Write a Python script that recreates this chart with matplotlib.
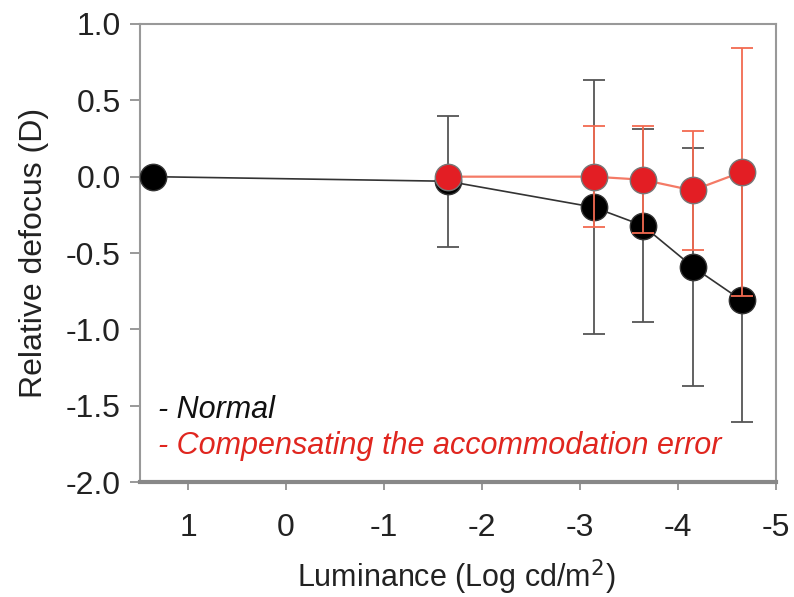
import matplotlib
matplotlib.use("Agg")
import matplotlib.pyplot as plt

plt.rcParams['font.family'] = ['Liberation Sans', 'DejaVu Sans']

# Data
normal_x = [1.36, -1.65, -3.14, -3.64, -4.15, -4.65]
normal_y = [0.0, -0.03, -0.20, -0.32, -0.59, -0.81]
normal_err = [0.0, 0.43, 0.83, 0.63, 0.78, 0.80]

comp_x = [-1.65, -3.14, -3.64, -4.15, -4.65]
comp_y = [0.0, 0.0, -0.02, -0.09, 0.03]
comp_err = [0.0, 0.33, 0.35, 0.39, 0.81]

xticks = [1, 0, -1, -2, -3, -4, -5]
yticks = [1.0, 0.5, 0.0, -0.5, -1.0, -1.5, -2.0]

fig = plt.figure(figsize=(7.94, 5.97), dpi=100)
ax = fig.add_axes([0.1763, 0.1926, 0.801, 0.7672])

ax.errorbar(normal_x, normal_y, yerr=normal_err, fmt='none', ecolor='#555555',
            elinewidth=1.3, capsize=8, capthick=1.3, zorder=2)
ax.plot(normal_x, normal_y, '-', color='#333333', lw=1.2, zorder=3)
ax.plot(normal_x, normal_y, 'o', ms=19, mfc='#000000', mec='#333333', mew=1.0,
        zorder=4, clip_on=False)

ax.errorbar(comp_x, comp_y, yerr=comp_err, fmt='none', ecolor='#f26a50',
            elinewidth=1.3, capsize=8, capthick=1.3, zorder=5)
ax.plot(comp_x, comp_y, '-', color='#f47a66', lw=1.6, zorder=6)
ax.plot(comp_x, comp_y, 'o', ms=19, mfc='#e31e24', mec='#777777', mew=1.0,
        zorder=7, clip_on=False)

ax.set_xlim(1.49, -5.0)
ax.set_ylim(-2.0, 1.0)
ax.set_xticks(xticks)
ax.set_xticklabels([str(t) for t in xticks])
ax.set_yticks(yticks)
ax.set_yticklabels([f"{t:.1f}" for t in yticks])

for s in ['left', 'top', 'right']:
    ax.spines[s].set_color('#999999')
    ax.spines[s].set_linewidth(1.5)
ax.spines['bottom'].set_color('#888888')
ax.spines['bottom'].set_linewidth(3)

ax.tick_params(axis='y', direction='out', length=7, width=1.2, color='#888888',
               labelsize=23, pad=7, labelcolor='#222222')
ax.tick_params(axis='x', direction='out', length=6, width=1.2, color='#888888',
               labelsize=23, pad=16, labelcolor='#222222')

ax.set_xlabel('Luminance (Log cd/m$^2$)', fontsize=22, color='#222222')
ax.xaxis.set_label_coords(0.497, -0.164)
ax.set_ylabel('Relative defocus (D)', fontsize=23, labelpad=12, color='#222222')

ax.text(0.028, 0.157, '- Normal', transform=ax.transAxes, fontsize=22,
        style='italic', color='#111111', va='center')
ax.text(0.028, 0.079, '- Compensating the accommodation error', transform=ax.transAxes,
        fontsize=22, style='italic', color='#e0261f', va='center')

fig.savefig('out.png', dpi=100)
